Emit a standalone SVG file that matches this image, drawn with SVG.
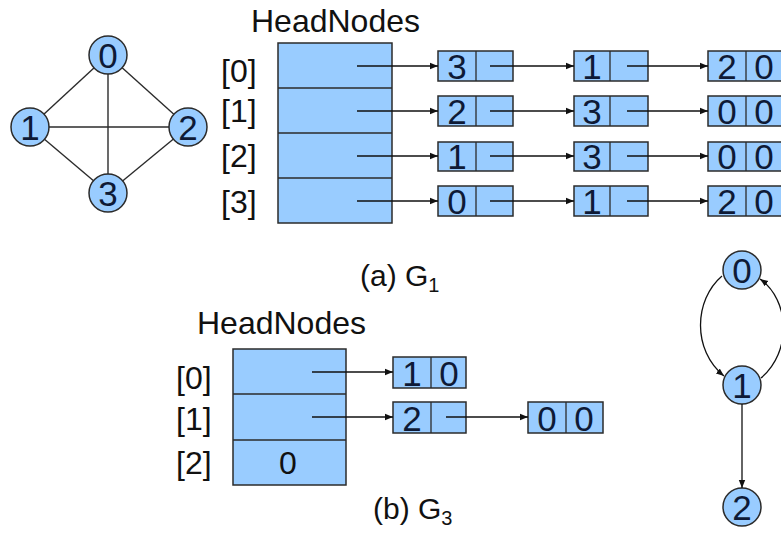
<svg xmlns="http://www.w3.org/2000/svg" width="781" height="533" viewBox="0 0 781 533">
  <style>
    .cell { fill: #99ccff; stroke: #2b2b2b; stroke-width: 1.5; }
    .vert { fill: #99ccff; stroke: #2b2b2b; stroke-width: 1.5; }
    .div { stroke: #2b2b2b; stroke-width: 1.3; }
    .edge { fill: none; stroke: #2b2b2b; stroke-width: 1.4; }
    .ptr { fill: none; stroke: #111; stroke-width: 1.3; marker-end: url(#ah); }
    .lbl { font-family: "Liberation Sans", Arial, sans-serif; font-size: 32px; fill: #111; }
    .cap { font-family: "Liberation Sans", Arial, sans-serif; font-size: 30px; fill: #111; }
    .num { font-family: "Liberation Sans", Arial, sans-serif; font-size: 35px; fill: #0e1a36; text-anchor: middle; }
    .sub { font-size: 20px; }
  </style>
  <defs>
    <marker id="ah" viewBox="0 0 10 10" refX="10" refY="5" markerWidth="8" markerHeight="8" markerUnits="userSpaceOnUse" orient="auto">
      <path d="M0,1 L10,5 L0,9 z" fill="#111"/>
    </marker>
  </defs>
  <rect width="781" height="533" fill="#ffffff"/>

  <!-- Graph G1 -->
  <g id="g1-edges">
    <line class="edge" x1="108" y1="55" x2="30" y2="127"/>
    <line class="edge" x1="108" y1="55" x2="188" y2="127"/>
    <line class="edge" x1="108" y1="55" x2="108" y2="193"/>
    <line class="edge" x1="30" y1="127" x2="188" y2="127"/>
    <line class="edge" x1="30" y1="127" x2="108" y2="193"/>
    <line class="edge" x1="188" y1="127" x2="108" y2="193"/>
  </g>
  <g id="g1-v0"><circle class="vert" cx="108" cy="55" r="19"/><text class="num" x="108" y="68">0</text></g>
  <g id="g1-v1"><circle class="vert" cx="30" cy="127" r="19"/><text class="num" x="30" y="140">1</text></g>
  <g id="g1-v2"><circle class="vert" cx="188" cy="127" r="19"/><text class="num" x="188" y="140">2</text></g>
  <g id="g1-v3"><circle class="vert" cx="108" cy="193" r="19"/><text class="num" x="108" y="206">3</text></g>

  <!-- Adjacency lists of G1 -->
  <g id="g1-head">
    <text class="lbl" x="251" y="32">HeadNodes</text>
    <rect class="cell" x="278" y="43" width="114" height="180"/>
    <line class="div" x1="278" y1="88" x2="392" y2="88"/>
    <line class="div" x1="278" y1="133" x2="392" y2="133"/>
    <line class="div" x1="278" y1="178" x2="392" y2="178"/>
    <text class="lbl" x="221" y="82">[0]</text>
    <text class="lbl" x="221" y="122">[1]</text>
    <text class="lbl" x="221" y="167">[2]</text>
    <text class="lbl" x="221" y="213">[3]</text>
  </g>

  <g id="g1-r0">
    <rect class="cell" x="438" y="51" width="75" height="30"/><line class="div" x1="476" y1="51" x2="476" y2="81"/><text class="num" x="457" y="79">3</text>
    <rect class="cell" x="574" y="51" width="74" height="30"/><line class="div" x1="610" y1="51" x2="610" y2="81"/><text class="num" x="592" y="79">1</text>
    <rect class="cell" x="708" y="51" width="76" height="30"/><line class="div" x1="746" y1="51" x2="746" y2="81"/><text class="num" x="727" y="79">2</text><text class="num" x="764" y="79">0</text>
  </g>
  <g id="g1-r1">
    <rect class="cell" x="438" y="96" width="75" height="30"/><line class="div" x1="476" y1="96" x2="476" y2="126"/><text class="num" x="457" y="124">2</text>
    <rect class="cell" x="574" y="96" width="74" height="30"/><line class="div" x1="610" y1="96" x2="610" y2="126"/><text class="num" x="592" y="124">3</text>
    <rect class="cell" x="708" y="96" width="76" height="30"/><line class="div" x1="746" y1="96" x2="746" y2="126"/><text class="num" x="727" y="124">0</text><text class="num" x="764" y="124">0</text>
  </g>
  <g id="g1-r2">
    <rect class="cell" x="438" y="142" width="75" height="29"/><line class="div" x1="476" y1="142" x2="476" y2="171"/><text class="num" x="457" y="169">1</text>
    <rect class="cell" x="574" y="142" width="74" height="29"/><line class="div" x1="610" y1="142" x2="610" y2="171"/><text class="num" x="592" y="169">3</text>
    <rect class="cell" x="708" y="142" width="76" height="29"/><line class="div" x1="746" y1="142" x2="746" y2="171"/><text class="num" x="727" y="169">0</text><text class="num" x="764" y="169">0</text>
  </g>
  <g id="g1-r3">
    <rect class="cell" x="438" y="186" width="75" height="30"/><line class="div" x1="476" y1="186" x2="476" y2="216"/><text class="num" x="457" y="214">0</text>
    <rect class="cell" x="574" y="186" width="74" height="30"/><line class="div" x1="610" y1="186" x2="610" y2="216"/><text class="num" x="592" y="214">1</text>
    <rect class="cell" x="708" y="186" width="76" height="30"/><line class="div" x1="746" y1="186" x2="746" y2="216"/><text class="num" x="727" y="214">2</text><text class="num" x="764" y="214">0</text>
  </g>

  <text class="cap" x="360" y="286">(a) G<tspan class="sub" dy="6">1</tspan></text>

  <!-- Adjacency lists of G3 -->
  <g id="g3-head">
    <text class="lbl" x="197" y="334">HeadNodes</text>
    <rect class="cell" x="233" y="349" width="113" height="136"/>
    <line class="div" x1="233" y1="394" x2="346" y2="394"/>
    <line class="div" x1="233" y1="440" x2="346" y2="440"/>
    <text class="lbl" x="176" y="389">[0]</text>
    <text class="lbl" x="176" y="430">[1]</text>
    <text class="lbl" x="176" y="474">[2]</text>
    <text class="lbl" x="288" y="474" text-anchor="middle">0</text>
  </g>
  <g id="g3-r0">
    <rect class="cell" x="393" y="357" width="73" height="31"/><line class="div" x1="431" y1="357" x2="431" y2="388"/><text class="num" x="412" y="386">1</text><text class="num" x="449" y="386">0</text>
  </g>
  <g id="g3-r1">
    <rect class="cell" x="393" y="402" width="73" height="31"/><line class="div" x1="431" y1="402" x2="431" y2="433"/><text class="num" x="412" y="431">2</text>
    <rect class="cell" x="528" y="402" width="75" height="31"/><line class="div" x1="566" y1="402" x2="566" y2="433"/><text class="num" x="547" y="431">0</text><text class="num" x="584" y="431">0</text>
  </g>

  <text class="cap" x="373" y="519">(b) G<tspan class="sub" dy="6">3</tspan></text>

  <!-- Graph G3 -->
  <g id="g3-v0"><circle class="vert" cx="742" cy="270" r="19"/><text class="num" x="742" y="283">0</text></g>
  <g id="g3-v1"><circle class="vert" cx="742" cy="385" r="19"/><text class="num" x="742" y="398">1</text></g>
  <g id="g3-v2"><circle class="vert" cx="742" cy="507" r="19"/><text class="num" x="742" y="520">2</text></g>

  <!-- Pointers and directed edges -->
  <g id="connectors">
    <line class="ptr" x1="357" y1="66" x2="438" y2="66"/>
    <line class="ptr" x1="357" y1="111" x2="438" y2="111"/>
    <line class="ptr" x1="357" y1="156" x2="438" y2="156"/>
    <line class="ptr" x1="357" y1="201" x2="438" y2="201"/>
    <line class="ptr" x1="490" y1="66" x2="574" y2="66"/>
    <line class="ptr" x1="490" y1="111" x2="574" y2="111"/>
    <line class="ptr" x1="490" y1="156" x2="574" y2="156"/>
    <line class="ptr" x1="490" y1="201" x2="574" y2="201"/>
    <line class="ptr" x1="627" y1="66" x2="708" y2="66"/>
    <line class="ptr" x1="627" y1="111" x2="708" y2="111"/>
    <line class="ptr" x1="627" y1="156" x2="708" y2="156"/>
    <line class="ptr" x1="627" y1="201" x2="708" y2="201"/>
    <line class="ptr" x1="312" y1="372" x2="393" y2="372"/>
    <line class="ptr" x1="312" y1="417" x2="393" y2="417"/>
    <line class="ptr" x1="446" y1="417" x2="528" y2="417"/>
    <path class="ptr" d="M722,276 C694,300 692,350 724,376"/>
    <path class="ptr" d="M761,378 C792,352 790,300 760,279"/>
    <line class="ptr" x1="742" y1="404" x2="742" y2="488"/>
  </g>
</svg>
